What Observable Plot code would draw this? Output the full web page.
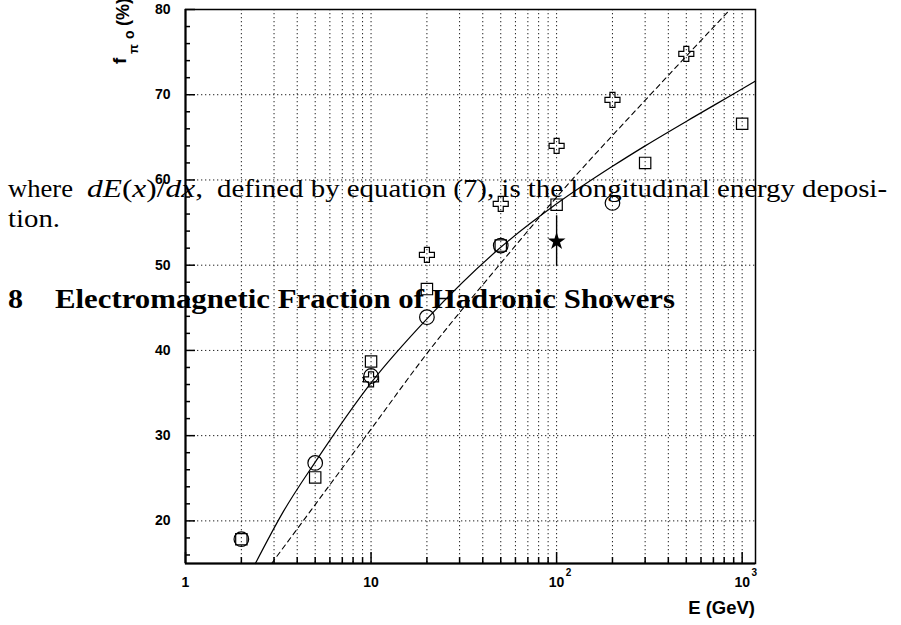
<!DOCTYPE html>
<html>
<head>
<meta charset="utf-8">
<script src="https://cdn.jsdelivr.net/npm/d3@7"></script>
<script src="https://cdn.jsdelivr.net/npm/@observablehq/plot@0.6"></script>
<style>
  html, body { margin: 0; padding: 0; background: #fff; }
  #chart svg { display: block; }
</style>
</head>
<body>
<div id="chart"></div>
<script>
// ---- data ----
const circleE = [2, 5, 10, 20, 50, 200];
const circleF = [17.85, 26.8, 37.0, 43.9, 52.3, 57.3];
const squareE = [2, 5, 10, 20, 50, 100, 300, 1000];
const squareF = [17.85, 25.1, 38.7, 47.2, 52.3, 57.1, 62.0, 66.6];
const crossE = [10, 20, 50, 100, 200, 500];
const crossF = [36.6, 51.2, 57.2, 64.0, 69.4, 74.8];
const starE = [100];
const starF = [52.8];
const starLow = [49.9];
const starHigh = [55.8];
const solidE = [2.38, 3.39, 5, 10, 20, 50, 100, 200, 300, 550, 883, 1180];
const solidF = [15, 21.2, 26.9, 36.2, 43.7, 52.1, 57.2, 61.6, 64.0, 67.4, 70.0, 71.6];
const dashedE = [2.91, 3.92, 9.42, 20.6, 49, 105, 320, 861];
const dashedF = [15, 18.8, 30, 40, 50, 58.5, 70, 80];

// ---- ticks ----
const xMajorTicks = [1, 10, 100, 1000];
const xTickLabels = ["1", "10", "10", "10"];
const xTickExponents = ["", "", "2", "3"];
const xMinorTicks = [2, 3, 4, 5, 6, 7, 8, 9, 20, 30, 40, 50, 60, 70, 80, 90, 200, 300, 400, 500, 600, 700, 800, 900];
const xGridTicks = [2, 3, 4, 5, 6, 7, 8, 9, 10, 20, 30, 40, 50, 60, 70, 80, 90, 100, 200, 300, 400, 500, 600, 700, 800, 900, 1000];
const yMajorTicks = [20, 30, 40, 50, 60, 70, 80];
const yGridTicks = [20, 30, 40, 50, 60, 70];
const yMinorTicks = [16, 18, 22, 24, 26, 28, 32, 34, 36, 38, 42, 44, 46, 48, 52, 54, 56, 58, 62, 64, 66, 68, 72, 74, 76, 78];

// ---- layout ----
const W = 901, H = 625;
const mL = 185, mR = 146, mT = 9, mB = 62;
const plotW = W - mL - mR, plotH = H - mT - mB;

const plusOutline = {
  draw(ctx, size) {
    const r = Math.sqrt(size / Math.PI), a = r / 3;
    ctx.moveTo(-a, -r); ctx.lineTo(a, -r); ctx.lineTo(a, -a); ctx.lineTo(r, -a);
    ctx.lineTo(r, a); ctx.lineTo(a, a); ctx.lineTo(a, r); ctx.lineTo(-a, r);
    ctx.lineTo(-a, a); ctx.lineTo(-r, a); ctx.lineTo(-r, -a); ctx.lineTo(-a, -a);
    ctx.closePath();
  }
};

const gridStyle = { stroke: "#222", strokeWidth: 1, strokeDasharray: "1.3,2.7", strokeOpacity: 1 };

const plot = Plot.plot({
  width: W, height: H,
  marginLeft: mL, marginRight: mR, marginTop: mT, marginBottom: mB,
  x: { type: "log", domain: [1, 1180] },
  y: { domain: [15, 80] },
  style: { fontFamily: "'Liberation Sans', Arial, Helvetica, sans-serif", fontWeight: "bold", background: "#fff", color: "#000" },
  marks: [
    Plot.gridX(xGridTicks, gridStyle),
    Plot.gridY(yGridTicks, gridStyle),
    Plot.line(dashedE, { x: dashedE, y: dashedF, stroke: "#000", strokeWidth: 1.1, strokeDasharray: "5,4", curve: "monotone-x" }),
    Plot.line(solidE, { x: solidE, y: solidF, stroke: "#000", strokeWidth: 1.2, curve: "monotone-x" }),
    Plot.ruleX(starE, { x: starE, y1: starLow, y2: starHigh, stroke: "#000", strokeWidth: 1.4 }),
    Plot.dot(squareE, { x: squareE, y: squareF, symbol: "square", r: 6.4, stroke: "#000", strokeWidth: 1.2, fill: "none" }),
    Plot.dot(circleE, { x: circleE, y: circleF, symbol: "circle", r: 7.3, stroke: "#000", strokeWidth: 1.2, fill: "none" }),
    Plot.dot(crossE, { x: crossE, y: crossF, symbol: plusOutline, r: 7.5, stroke: "#000", strokeWidth: 1.2, fill: "none" }),
    Plot.dot(starE, { x: starE, y: starF, symbol: "star", r: 5.6, fill: "#000", stroke: "none" }),
    // inward ticks
    Plot.tickY(yMajorTicks, { stroke: "#000", strokeWidth: 1.5, insetRight: plotW - 10 }),
    Plot.tickY(yMinorTicks, { stroke: "#000", strokeWidth: 1.5, insetRight: plotW - 5 }),
    Plot.tickX(xMajorTicks, { stroke: "#000", strokeWidth: 1.5, insetTop: plotH - 11 }),
    Plot.tickX(xMinorTicks, { stroke: "#000", strokeWidth: 1.5, insetTop: plotH - 6 }),
    // axes
    Plot.axisY(yMajorTicks, { tickSize: 0, tickPadding: 15, fontSize: 14, fontWeight: "bold", label: null }),
    Plot.axisX(xMajorTicks, { tickSize: 0, tickPadding: 14, fontSize: 14, fontWeight: "bold", label: null,
      tickFormat: (d) => xTickLabels[xMajorTicks.indexOf(d)] }),
    Plot.text(xMajorTicks, { x: xMajorTicks, text: xTickExponents, frameAnchor: "bottom", dy: 9, dx: 12,
      fontSize: 10, fontWeight: "bold", lineAnchor: "middle", fill: "#000" }),
    Plot.frame({ stroke: "#000", strokeWidth: 1.5 }),
    Plot.ruleX([1], { stroke: "#000", strokeWidth: 2 }),
    Plot.ruleY([15], { stroke: "#000", strokeWidth: 2 })
  ]
});

document.getElementById("chart").appendChild(plot);

const svg = d3.select(plot);

// axis titles
const sans = "'Liberation Sans', Arial, Helvetica, sans-serif";
svg.append("text")
  .attr("x", 755).attr("y", 614)
  .attr("text-anchor", "end")
  .style("font-family", sans).style("font-weight", "bold").style("font-size", "18.5px")
  .attr("fill", "#000")
  .text("E (GeV)");

function rotText(x, y, str, size, anchor) {
  svg.append("text")
    .attr("transform", `translate(${x},${y}) rotate(-90)`)
    .attr("text-anchor", anchor)
    .style("font-family", sans).style("font-weight", "bold").style("font-size", size + "px")
    .attr("fill", "#000")
    .text(str);
}
rotText(126, 64, "f", 19, "start");
rotText(138, 54, "π", 13, "start");
rotText(134, 39, "o", 14, "start");
rotText(129, 26, "(%)", 18, "start");

// overlaid page text
const serif = "'Liberation Serif', 'Times New Roman', serif";
function pageText(x, y, size, weight, len, build) {
  const t = svg.append("text")
    .attr("x", x).attr("y", y)
    .attr("text-anchor", "start")
    .attr("textLength", len).attr("lengthAdjust", "spacingAndGlyphs")
    .style("font-family", serif).style("font-weight", weight).style("font-size", size + "px")
    .attr("fill", "#000");
  build(t);
}
pageText(8, 197, 25, "normal", 65, t => t.text("where"));
pageText(87, 197, 25, "normal", 116, t => {
  t.append("tspan").style("font-style", "italic").text("dE");
  t.append("tspan").text("(");
  t.append("tspan").style("font-style", "italic").text("x");
  t.append("tspan").text(")/");
  t.append("tspan").style("font-style", "italic").text("dx");
  t.append("tspan").text(",");
});
pageText(217, 197, 25, "normal", 670, t => t.text("defined by equation (7), is the longitudinal energy deposi-"));
pageText(8, 227, 25, "normal", 52, t => t.text("tion."));
pageText(8, 308, 27, "bold", 15, t => t.text("8"));
pageText(55, 308, 27, "bold", 620, t => t.text("Electromagnetic Fraction of Hadronic Showers"));
</script>
</body>
</html>
